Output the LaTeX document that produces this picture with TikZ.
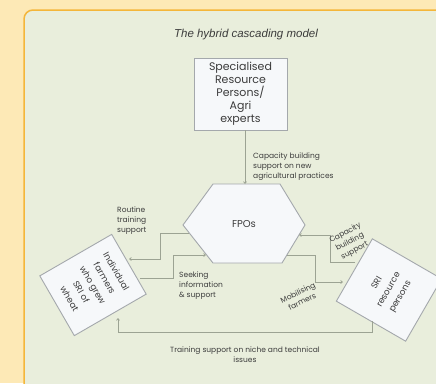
\documentclass[tikz,border=0pt]{standalone}
\usepackage{fontspec}
\setmainfont{Poppins}
\newfontfamily\titlefont{Liberation Sans}
\usetikzlibrary{arrows.meta,calc}
\definecolor{outerbg}{HTML}{FDE9B6}
\definecolor{panelbg}{HTML}{E9EEDC}
\definecolor{panelborder}{HTML}{F4B63A}
\definecolor{boxfill}{HTML}{F6F8FA}
\definecolor{boxline}{HTML}{A4A8AC}
\definecolor{connc}{HTML}{9CA393}
\definecolor{txt}{HTML}{3C3C3C}
\begin{document}
\begin{tikzpicture}[x=1pt,y=-1pt,
  box/.style={draw=boxline, line width=0.9pt, fill=boxfill, align=center, text=txt, inner sep=0pt},
  conn/.style={draw=connc, line width=0.8pt, -{Straight Barb[length=1.8pt,width=3pt]}},
  lbl/.style={text=txt, font=\fontsize{7.5}{10}\selectfont, inner sep=0pt},
]
\useasboundingbox (0,0) rectangle (436,383);
\fill[outerbg] (0,0) rectangle (436,383);
\begin{scope}
\clip (0,0) rectangle (436,383);
\draw[panelborder, line width=1.5pt, fill=panelbg, rounded corners=9pt] (24,10) rectangle (470,420);
\end{scope}
% title
\node[text=txt, font=\titlefont\itshape\fontsize{11.5}{13}\selectfont] (title) at (246,35) {The hybrid cascading model};
% top box
\node[box, minimum width=93pt, minimum height=72pt, font=\fontsize{11}{13}\selectfont] (spec) at (240.5,94) {Specialised\\Resource\\Persons/\\Agri\\experts};
% hexagon
\coordinate (hA) at (183,225);
\coordinate (hB) at (213,184);
\coordinate (hC) at (280,184);
\coordinate (hD) at (305,225);
\coordinate (hE) at (282,263);
\coordinate (hF) at (213,263);
\draw[box] (hA) -- (hB) -- (hC) -- (hD) -- (hE) -- (hF) -- cycle;
\node[text=txt, font=\fontsize{10}{12}\selectfont] (fpo) at (244,224) {FPOs};
% side boxes
\node[box, rotate=-60, minimum width=69pt, minimum height=83pt, font=\fontsize{8.8}{13.5}\selectfont] (farm) at (93,285) {Individual\\farmers\\who grew\\SRI of\\wheat};
\node[box, rotate=60, minimum width=72pt, minimum height=80pt, font=\fontsize{8.8}{13.5}\selectfont] (sri) at (389,290) {SRI\\resource\\persons};
% connection points
\coordinate (htop) at (245,184);
\coordinate (hl1) at (189,233);
\coordinate (hl2) at (206,255);
\coordinate (hr1) at (299,235);
\coordinate (hr2) at (287,255);
\coordinate (fa1) at (129,259);
\coordinate (fa2) at (140,278);
\coordinate (fa3) at (118,318);
\coordinate (sr1) at (355,262);
\coordinate (sr2) at (343,282);
\coordinate (sr3) at (372,321);
% connectors
\draw[conn] (spec.south -| htop) -- (htop);
\draw[conn] (hl1) -- (160,233) -- (160,259) -- (fa1);
\draw[conn] (fa2) -- (173,278) -- (173,255) -- (hl2);
\draw[conn] (sr1) -- (330,262) -- (330,235) -- (hr1);
\draw[conn] (hr2) -- (315,255) -- (315,282) -- (sr2);
\draw[conn] (sr3) -- (372,332) -- (118,332) -- (fa3);
% labels
\node[lbl, anchor=north west, align=left] (lcap) at (253,153) {Capacity building\\support on new\\agricultural practices};
\node[lbl, anchor=north west, align=left] (lrou) at (117,207) {Routine\\training\\support};
\node[lbl, anchor=north west, align=left] (lsee) at (179,272) {Seeking\\information\\\& support};
\node[lbl, rotate=28, align=center] (lcap2) at (350,242) {Capacity\\building\\support};
\node[lbl, rotate=26, align=center] (lmob) at (300,297) {Mobilising\\farmers};
\node[lbl, align=center] (ltrain) at (245,355) {Training support on niche and technical\\issues};
\end{tikzpicture}
\end{document}
